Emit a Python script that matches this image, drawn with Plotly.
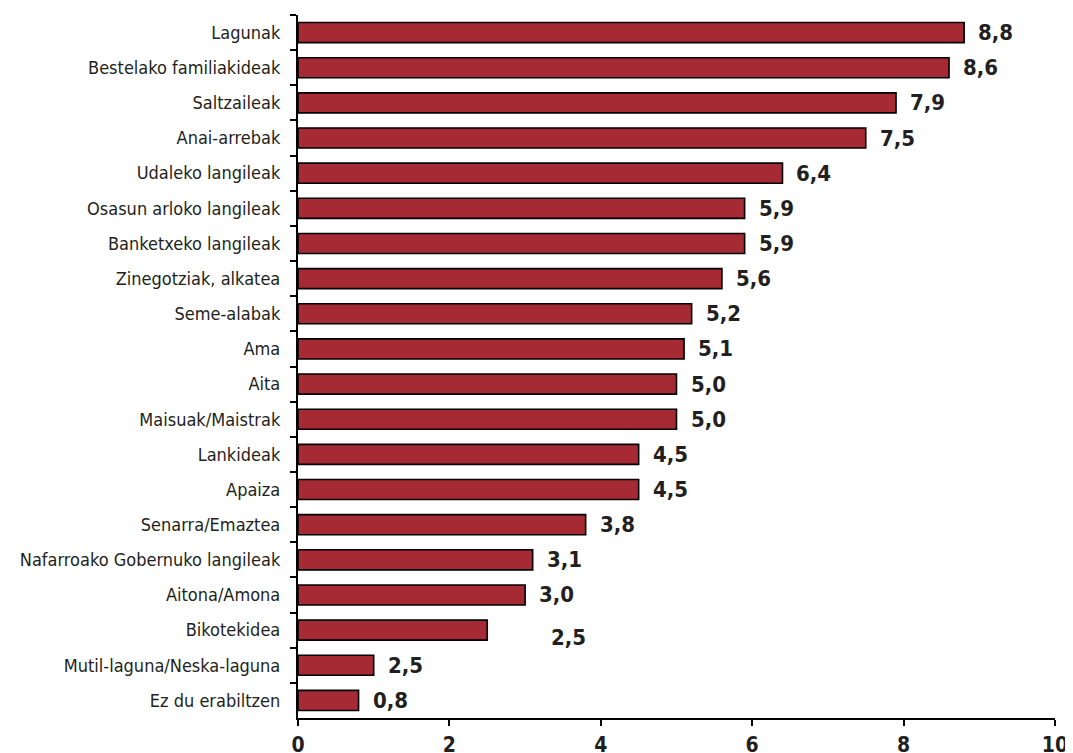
import plotly.graph_objects as go

categories = [
    "Lagunak", "Bestelako familiakideak", "Saltzaileak", "Anai-arrebak",
    "Udaleko langileak", "Osasun arloko langileak", "Banketxeko langileak",
    "Zinegotziak, alkatea", "Seme-alabak", "Ama", "Aita", "Maisuak/Maistrak",
    "Lankideak", "Apaiza", "Senarra/Emaztea", "Nafarroako Gobernuko langileak",
    "Aitona/Amona", "Bikotekidea", "Mutil-laguna/Neska-laguna", "Ez du erabiltzen",
]
values = [8.8, 8.6, 7.9, 7.5, 6.4, 5.9, 5.9, 5.6, 5.2, 5.1, 5.0, 5.0, 4.5, 4.5,
          3.8, 3.1, 3.0, 2.5, 1.0, 0.8]
value_labels = ["8,8", "8,6", "7,9", "7,5", "6,4", "5,9", "5,9", "5,6", "5,2",
                "5,1", "5,0", "5,0", "4,5", "4,5", "3,8", "3,1", "3,0", "2,5",
                "2,5", "0,8"]
x_ticks = [0, 2, 4, 6, 8, 10]

TEXT = "#231F20"
BAR = "#A62A33"
LABEL_FONT = "DejaVu Sans Condensed, Liberation Sans Narrow, Roboto, sans-serif"

fig = go.Figure(go.Bar(
    x=values, y=categories, orientation="h",
    marker=dict(color=BAR, line=dict(color="#000000", width=1.6)),
    width=0.57,
    hoverinfo="skip",
))

# value labels (the reference shows one label displaced)
for cat, val, lab in zip(categories, values, value_labels):
    dx, dy = 12, 0
    if cat == "Bikotekidea":
        dx, dy = 62, -7
    fig.add_annotation(
        x=val, y=cat, text=lab, showarrow=False, xanchor="left",
        xshift=dx, yshift=dy,
        font=dict(family=LABEL_FONT, size=22, color=TEXT, weight="bold"),
    )

fig.update_layout(
    width=1065, height=745,
    margin=dict(l=290, r=18, t=7, b=35),
    plot_bgcolor="white", paper_bgcolor="white",
    showlegend=False,
    bargap=0.43,
)
fig.update_xaxes(
    range=[0, 10], tickvals=x_ticks, ticktext=[str(t) for t in x_ticks],
    showgrid=False, zeroline=False, showline=True, linecolor="#000000",
    linewidth=2.2, ticks="outside", ticklen=6, tickwidth=2, tickcolor="#000000",
    tickfont=dict(family=LABEL_FONT, size=21, color=TEXT, weight="bold"),
    ticklabelstandoff=1, automargin=False,
)
fig.update_yaxes(
    categoryorder="array", categoryarray=categories, autorange="reversed",
    showgrid=False, zeroline=False, showline=True, linecolor="#000000",
    linewidth=2.2, ticks="outside", ticklen=6, tickwidth=2, tickcolor="#000000",
    tickson="boundaries",
    tickfont=dict(family=LABEL_FONT, size=18, color=TEXT),
    ticklabelstandoff=12, automargin=False,
)

fig.write_html("out.html")
